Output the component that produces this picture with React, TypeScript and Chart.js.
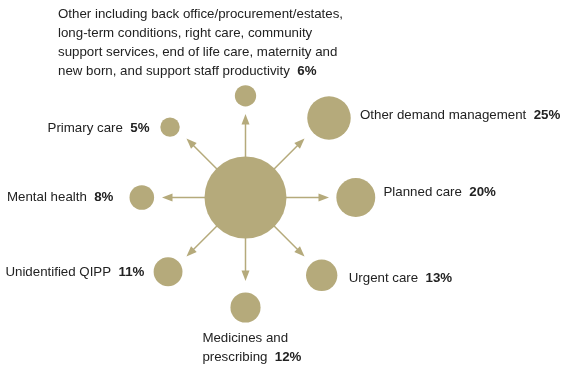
import React, { useEffect, useRef } from "react";
import { Chart, registerables } from "chart.js";

Chart.register(...registerables);

// ---------- data ----------
const categories = [
  "Other including back office/procurement/estates, long-term conditions, right care, community support services, end of life care, maternity and new born, and support staff productivity",
  "Other demand management",
  "Planned care",
  "Urgent care",
  "Medicines and prescribing",
  "Unidentified QIPP",
  "Mental health",
  "Primary care",
];
const shares = [6, 25, 20, 13, 12, 11, 8, 5];
const labelLines = [
  [
    "Other including back office/procurement/estates,",
    "long-term conditions, right care, community",
    "support services, end of life care, maternity and",
    "new born, and support staff productivity",
  ],
  ["Other demand management"],
  ["Planned care"],
  ["Urgent care"],
  ["Medicines and", "prescribing"],
  ["Unidentified QIPP"],
  ["Mental health"],
  ["Primary care"],
];

// ---------- layout ----------
const W = 563;
const H = 369;
const CX = 245.5;
const CY = 197.5;
const CENTER_R = 41;
const R_PER_SQRT = 4.35;
const satAngle = [-90, -43.6, 0, 45.6, 90, 136.2, 180, -137];
const satDist = [101.7, 115.3, 110.3, 108.9, 110, 107.3, 103.7, 103.2];
const arrowAngle = [-90, -45, 0, 45, 90, 135, 180, -135];
const ARROW_TIP = 83.5;
const labelPos = [
  { x: -187.5, y: -183.5, align: "left" },
  { x: 114.5, y: -82.5, align: "left" },
  { x: 138, y: -5, align: "left" },
  { x: 103.2, y: 80.5, align: "left" },
  { x: -43.1, y: 141, align: "left" },
  { x: -240.1, y: 74.5, align: "left" },
  { x: -238.5, y: -0.5, align: "left" },
  { x: -96, y: -69.5, align: "right" },
];
const LINE_H = 19;
const TAN = "#b5aa7b";
const TEXT = "#222222";
const FONT_SIZE = 13.3;
const FAMILY = '"Liberation Sans", Arial, sans-serif';

const rad = (d: number) => (d * Math.PI) / 180;

const overlayPlugin = {
  id: "overlay",
  beforeDatasetsDraw(chart: any) {
    const { ctx, scales } = chart;
    const x = scales.x;
    const y = scales.y;
    const cx = x.getPixelForValue(0);
    const cy = y.getPixelForValue(0);
    ctx.save();
    ctx.strokeStyle = TAN;
    ctx.fillStyle = TAN;
    ctx.lineWidth = 1.5;
    arrowAngle.forEach((a) => {
      const dx = Math.cos(rad(a));
      const dy = Math.sin(rad(a));
      const headLen = 10.5;
      const headHalf = 4;
      const sx = cx + dx * (CENTER_R - 2);
      const sy = cy + dy * (CENTER_R - 2);
      const tx = cx + dx * ARROW_TIP;
      const ty = cy + dy * ARROW_TIP;
      const bx = tx - dx * headLen;
      const by = ty - dy * headLen;
      ctx.beginPath();
      ctx.moveTo(sx, sy);
      ctx.lineTo(bx + dx * 1, by + dy * 1);
      ctx.stroke();
      ctx.beginPath();
      ctx.moveTo(tx, ty);
      ctx.lineTo(bx - dy * headHalf, by + dx * headHalf);
      ctx.lineTo(bx + dy * headHalf, by - dx * headHalf);
      ctx.closePath();
      ctx.fill();
    });
    ctx.restore();
  },
  afterDatasetsDraw(chart: any) {
    const { ctx, scales } = chart;
    const xs = scales.x;
    const ys = scales.y;
    ctx.save();
    ctx.fillStyle = TEXT;
    ctx.textBaseline = "middle";
    const reg = `${FONT_SIZE}px ${FAMILY}`;
    const bold = `bold ${FONT_SIZE}px ${FAMILY}`;
    labelLines.forEach((lines, i) => {
      const p = labelPos[i];
      const px = xs.getPixelForValue(p.x);
      const pct = `${shares[i]}%`;
      lines.forEach((line, j) => {
        const py = ys.getPixelForValue(p.y + j * LINE_H);
        const isLast = j === lines.length - 1;
        ctx.font = reg;
        const lw = ctx.measureText(line).width;
        const gap = ctx.measureText("  ").width;
        ctx.font = bold;
        const pw = isLast ? ctx.measureText(pct).width : 0;
        const total = lw + (isLast ? gap + pw : 0);
        const startX = p.align === "right" ? px - total : px;
        ctx.font = reg;
        ctx.textAlign = "left";
        ctx.fillText(line, startX, py);
        if (isLast) {
          ctx.font = bold;
          ctx.fillText(pct, startX + lw + gap, py);
        }
      });
    });
    ctx.restore();
  },
};

export default function App() {
  const ref = useRef<HTMLCanvasElement | null>(null);
  useEffect(() => {
    if (!ref.current) return;
    const satellites = shares.map((v, i) => ({
      x: satDist[i] * Math.cos(rad(satAngle[i])),
      y: satDist[i] * Math.sin(rad(satAngle[i])),
      r: Math.sqrt(v) * R_PER_SQRT,
      label: categories[i],
    }));
    const chart = new Chart(ref.current, {
      type: "bubble",
      data: {
        datasets: [
          {
            label: "Total",
            data: [{ x: 0, y: 0, r: CENTER_R }],
            backgroundColor: TAN,
            borderWidth: 0,
            hoverBorderWidth: 0,
            clip: false,
          },
          {
            label: "Share of savings",
            data: satellites,
            backgroundColor: TAN,
            borderWidth: 0,
            hoverBorderWidth: 0,
            clip: false,
          },
        ],
      },
      options: {
        responsive: false,
        maintainAspectRatio: false,
        animation: false,
        layout: { padding: 0, autoPadding: false },
        events: [],
        plugins: { legend: { display: false }, tooltip: { enabled: false } },
        scales: {
          x: { type: "linear", display: false, min: -CX, max: W - CX },
          y: { type: "linear", display: false, reverse: true, min: -CY, max: H - CY },
        },
      },
      plugins: [overlayPlugin],
    } as any);
    return () => chart.destroy();
  }, []);
  return (
    <div style={{ position: "fixed", left: 0, top: 0, width: W, height: H, background: "#fff" }}>
      <canvas ref={ref} width={W} height={H} style={{ width: W, height: H, display: "block" }} />
    </div>
  );
}
